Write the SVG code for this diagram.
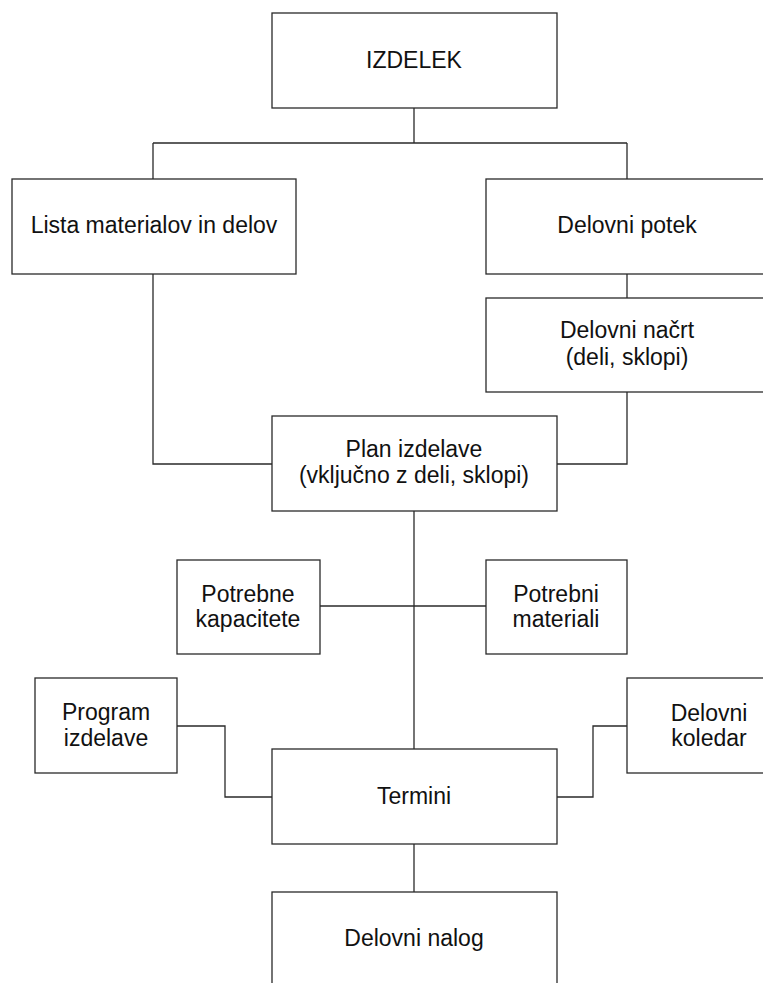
<svg xmlns="http://www.w3.org/2000/svg" width="763" height="983" viewBox="0 0 763 983">
  <style>
    .box { fill: #ffffff; stroke: #2a2a2a; stroke-width: 1.3; }
    .link { fill: none; stroke: #2a2a2a; stroke-width: 1.3; }
    text { font-family: "Liberation Sans", Arial, sans-serif; font-size: 23px; fill: #111111; text-anchor: middle; }
  </style>
  <rect width="763" height="983" fill="#ffffff"/>

  <g id="connectors">
    <path class="link" d="M414 108 V143 M153 143 H627 M153 143 V179 M627 143 V179"/>
    <path class="link" d="M627 274 V298"/>
    <path class="link" d="M153 274 V464 H272"/>
    <path class="link" d="M627 392 V464 H557"/>
    <path class="link" d="M414 511 V749"/>
    <path class="link" d="M320 606 H486"/>
    <path class="link" d="M177 726 H225 V797 H272"/>
    <path class="link" d="M557 797 H593 V726 H627"/>
    <path class="link" d="M414 844 V892"/>
  </g>

  <g id="izdelek">
    <rect class="box" x="272" y="13" width="285" height="95"/>
    <text x="414" y="68">IZDELEK</text>
  </g>

  <g id="lista-materialov">
    <rect class="box" x="12" y="179" width="284" height="95"/>
    <text x="154" y="233">Lista materialov in delov</text>
  </g>

  <g id="delovni-potek">
    <rect class="box" x="486" y="179" width="284" height="95"/>
    <text x="627" y="233">Delovni potek</text>
  </g>

  <g id="delovni-nacrt">
    <rect class="box" x="486" y="298" width="284" height="94"/>
    <text x="627" y="338">Delovni načrt</text>
    <text x="627" y="365">(deli, sklopi)</text>
  </g>

  <g id="plan-izdelave">
    <rect class="box" x="272" y="416" width="285" height="95"/>
    <text x="414" y="457">Plan izdelave</text>
    <text x="414" y="483">(vključno z deli, sklopi)</text>
  </g>

  <g id="potrebne-kapacitete">
    <rect class="box" x="177" y="560" width="143" height="94"/>
    <text x="248" y="602">Potrebne</text>
    <text x="248" y="627">kapacitete</text>
  </g>

  <g id="potrebni-materiali">
    <rect class="box" x="486" y="560" width="141" height="94"/>
    <text x="556" y="602">Potrebni</text>
    <text x="556" y="627">materiali</text>
  </g>

  <g id="program-izdelave">
    <rect class="box" x="35" y="678" width="142" height="95"/>
    <text x="106" y="720">Program</text>
    <text x="106" y="746">izdelave</text>
  </g>

  <g id="delovni-koledar">
    <rect class="box" x="627" y="678" width="164" height="95"/>
    <text x="709" y="721">Delovni</text>
    <text x="709" y="746">koledar</text>
  </g>

  <g id="termini">
    <rect class="box" x="272" y="749" width="285" height="95"/>
    <text x="414" y="804">Termini</text>
  </g>

  <g id="delovni-nalog">
    <rect class="box" x="272" y="892" width="285" height="100"/>
    <text x="414" y="946">Delovni nalog</text>
  </g>
</svg>
